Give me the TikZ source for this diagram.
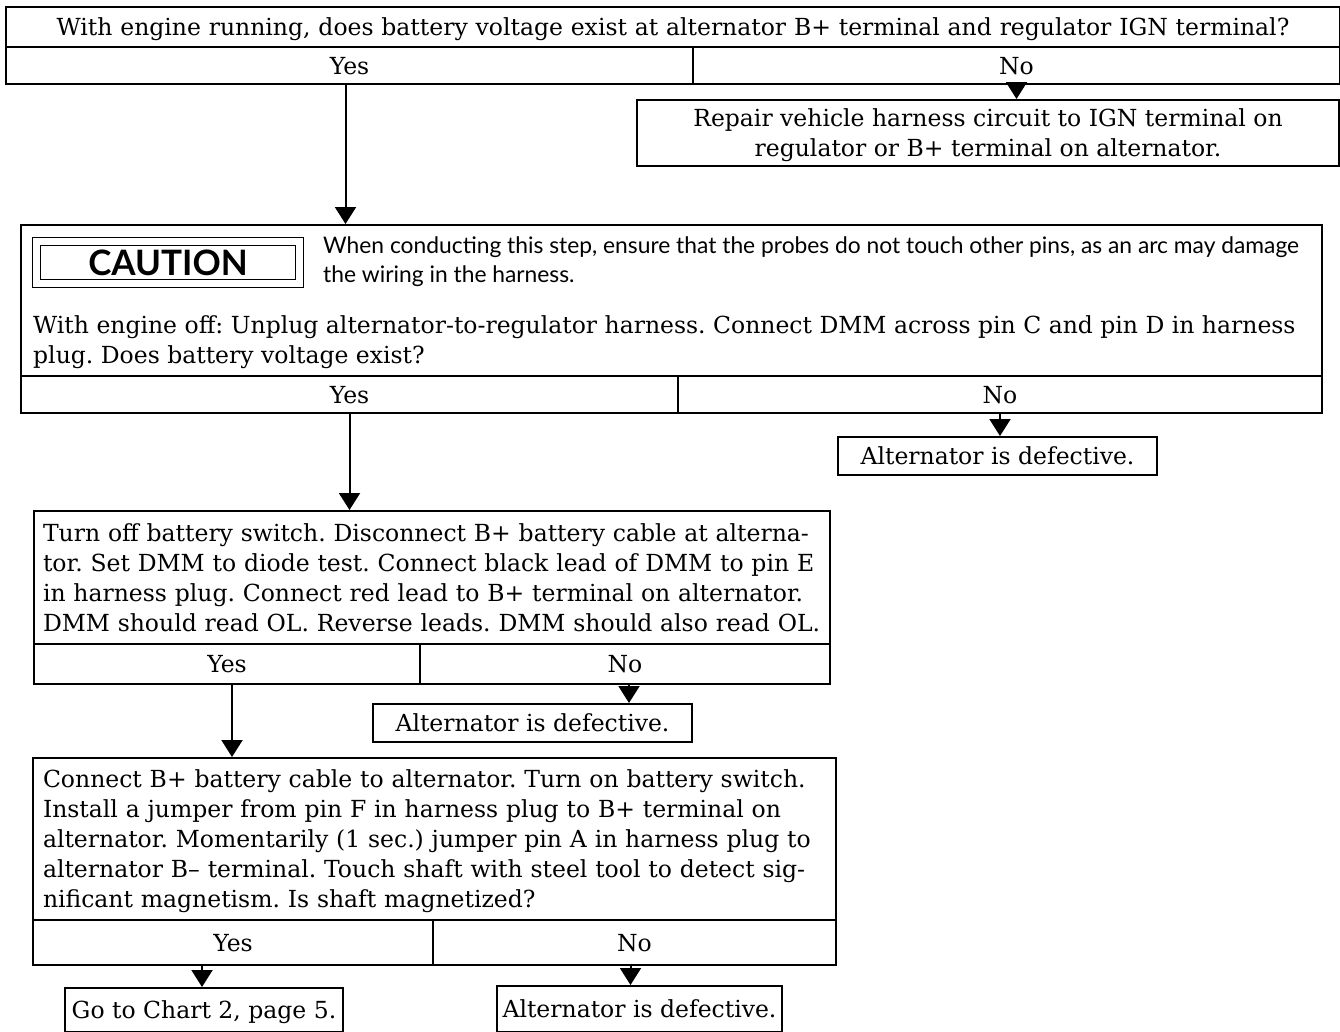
\documentclass[tikz,border=0pt]{standalone}
\usepackage{fontspec}
\setmainfont{DejaVu Serif}
\newfontfamily\gillfont{Lato}
\usetikzlibrary{arrows.meta}
\frenchspacing
\newcommand\chartfont{\fontsize{23.5pt}{30pt}\selectfont}
\tikzset{
  qbox/.style={draw, line width=2pt, anchor=north west, inner sep=0pt, align=left, text height=17pt},
  answer/.style={draw, line width=2pt, anchor=north west, inner sep=0pt, text height=17pt, text depth=0pt},
  result/.style={draw, line width=2pt, anchor=north west, inner sep=0pt, align=center},
  oneline/.style={text height=17pt, text depth=0pt},
  flow/.style={line width=2pt, -{Triangle[length=17pt,width=21pt]}},
}

\begin{document}
\begin{tikzpicture}[x=1pt, y=-1pt, font=\chartfont]
			%%%%% START %%%%%
			\useasboundingbox (0,0) rectangle (1340,1031);
			
			\node[qbox, oneline, minimum width=1334, minimum height=40, text width=1334, align=center] (q1) at (5,6) {With engine running, does battery voltage exist at alternator B+ terminal and regulator IGN terminal?};
			\node[answer, minimum width=687, minimum height=37] (q1yes) at (5,46) {Yes};
			\node[answer, minimum width=647, minimum height=37] (q1no) at (692,46) {No};
			
			\node[result, text depth=0pt, minimum width=702, minimum height=66] (fix) at (636,99) {Repair vehicle harness circuit to IGN terminal on\\regulator or B+ terminal on alternator.};
			\draw[flow] (q1no.south) -- (q1no.south |- fix.north);
			
			\node[qbox, minimum width=1301, minimum height=151] (q2) at (20,224) {};
			\coordinate (yes1) at ([xshift=-4pt]q1yes.south);
			\draw[flow] (yes1) -- (yes1 |- q2.north);
			\node[draw, double, double distance=7pt, line width=1.2pt, minimum width=263, minimum height=42, inner sep=0pt, font=\gillfont\bfseries\fontsize{35pt}{35pt}\selectfont] (caution) at (168,262.5) {CAUTION};
			\node[anchor=north west, inner sep=0pt, align=left, font=\gillfont\fontsize{22.8pt}{29pt}\selectfont] (note) at (323,237) {When conducting this step, ensure that the probes do not touch other pins, as an arc may damage\\the wiring in the harness.};
			\node[anchor=north west, inner sep=0pt, align=left] (q2text) at (33,315) {With engine off: Unplug alternator-to-regulator harness. Connect DMM across pin C and pin D in harness\\plug. Does battery voltage exist?};
			\node[answer, minimum width=657, minimum height=37] (q2yes) at (20,375) {Yes};
			\node[answer, minimum width=644, minimum height=37] (q2no) at (677,375) {No};
			
			\node[result, oneline, minimum width=319, minimum height=38] (bad1) at (837,436) {Alternator is defective.};
			\draw[flow] (q2no.south) -- (q2no.south |- bad1.north);
			
			\node[qbox, text depth=90pt, minimum width=796, minimum height=133, text width=778] (q3) at (33,510) {Turn off battery switch. Disconnect B+ battery cable at alterna-\\tor. Set DMM to diode test. Connect black lead of DMM to pin E\\in harness plug. Connect red lead to B+ terminal on alternator.\\DMM should read OL. Reverse leads. DMM should also read OL.};
			\draw[flow] (q2yes.south) -- (q2yes.south |- q3.north);
			\node[answer, minimum width=386, minimum height=40] (q3yes) at (33,643) {Yes};
			\node[answer, minimum width=410, minimum height=40] (q3no) at (419,643) {No};
			
			\node[result, oneline, minimum width=319, minimum height=38] (bad2) at (372,703) {Alternator is defective.};
			\coordinate (no3) at ([xshift=4pt]q3no.south);
			\draw[flow] (no3) -- (no3 |- bad2.north);
			
			\node[qbox, text depth=120pt, minimum width=803, minimum height=162, text width=783] (q4) at (32,757) {Connect B+ battery cable to alternator. Turn on battery switch.\\Install a jumper from pin F in harness plug to B+ terminal on\\alternator. Momentarily (1 sec.) jumper pin A in harness plug to\\alternator B-- terminal. Touch shaft with steel tool to detect sig-\\nificant magnetism. Is shaft magnetized?};
			\coordinate (yes3) at ([xshift=5pt]q3yes.south);
			\draw[flow] (yes3) -- (yes3 |- q4.north);
			\node[answer, minimum width=400, minimum height=45] (q4yes) at (32,919) {Yes};
			\node[answer, minimum width=403, minimum height=45] (q4no) at (432,919) {No};
			
			\node[result, oneline, minimum width=278, minimum height=44] (chart) at (64,987) {Go to Chart 2, page 5.};
			\node[result, oneline, minimum width=285, minimum height=46] (bad3) at (496,985) {Alternator is defective.};
			\coordinate (yes4) at ([xshift=-31pt]q4yes.south);
			\coordinate (no4) at ([xshift=-4pt]q4no.south);
			\draw[flow] (yes4) -- (yes4 |- chart.north);
			\draw[flow] (no4) -- (no4 |- bad3.north);
			
			%%%%% END %%%%%
\end{tikzpicture}
\end{document}
